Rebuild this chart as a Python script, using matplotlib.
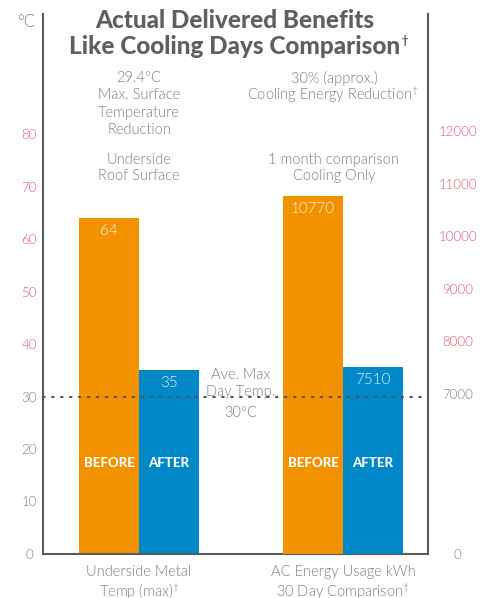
import numpy as np
import matplotlib
matplotlib.use("Agg")
import matplotlib.pyplot as plt
from matplotlib import font_manager

# data
groups = ['Underside Metal\nTemp (max)$^{\u2020}$', 'AC Energy Usage kWh\n30 Day Comparison$^{\u2020}$']
series = ['BEFORE', 'AFTER']
temp_vals = [64, 35]          # deg C, left axis
energy_vals = [10770, 7510]   # kWh, right axis
left_ticks = [0, 10, 20, 30, 40, 50, 60, 70, 80]
right_ticks = [7000, 8000, 9000, 10000, 11000, 12000]
avg_day_temp = 30

orange = '#f39200'
blue = '#0088c9'
lgrey = '#7d7d7d'
red = '#e8566e'
spine_c = '#5a5a5a'

names = {f.name for f in font_manager.fontManager.ttflist}
light = 'Lato' if 'Lato' in names else 'DejaVu Sans'
plt.rcParams['font.family'] = [light, 'DejaVu Sans']
plt.rcParams['font.weight'] = 300
plt.rcParams['mathtext.fontset'] = 'custom'
plt.rcParams['mathtext.rm'] = light
plt.rcParams['mathtext.it'] = light

W, H = 488, 598
fig = plt.figure(figsize=(W / 100, H / 100), dpi=100)
ax = fig.add_axes([43 / W, 1 - 554 / H, (428 - 43) / W, (554 - 14) / H])
ax2 = ax.twinx()

ytop = (554 - 14) / 5.25
ax.set_ylim(0, ytop)
r0 = 3950  # right axis is broken: 0 sits at the bottom, 7000 just above 30 degC
ax2.set_ylim(r0, r0 + ytop * 100)
ax.set_xlim(-0.4706, 1.4167)

bw = 0.294
xs = np.array([0, 1])
ax.bar(xs[0] - bw / 2, temp_vals[0], bw, color=orange, zorder=2)
ax.bar(xs[0] + bw / 2, temp_vals[1], bw, color=blue, zorder=2)
ax2.bar(xs[1] - bw / 2, energy_vals[0] - r0, bw, bottom=r0, color=orange, zorder=2)
ax2.bar(xs[1] + bw / 2, energy_vals[1] - r0, bw, bottom=r0, color=blue, zorder=2)

# dotted average line (on ax2 so it sits over every bar)
ax2.axhline(r0 + avg_day_temp * 100, color='#555555', lw=1.5, ls=(0, (0.8, 3.5)),
            dash_capstyle='round', zorder=3)

for a in (ax, ax2):
    for s in a.spines.values():
        s.set_visible(False)
ax.spines['left'].set_visible(True)
ax.spines['bottom'].set_visible(True)
ax2.spines['right'].set_visible(True)
for s in (ax.spines['left'], ax.spines['bottom'], ax2.spines['right']):
    s.set_color(spine_c)
    s.set_linewidth(1.5)

ax.set_yticks(left_ticks)
ax.set_yticklabels([str(t) for t in left_ticks])
ax.tick_params(axis='y', length=0, pad=10, labelsize=9.5)
for t, lab in zip(left_ticks, ax.get_yticklabels()):
    lab.set_color(red if t >= 40 else lgrey)
    lab.set_ha('center')

rt = [r0] + right_ticks
ax2.set_yticks(rt)
ax2.set_yticklabels(['0'] + [str(t) for t in right_ticks])
ax2.tick_params(axis='y', length=0, pad=21.5, labelsize=9.5)
for t, lab in zip(rt, ax2.get_yticklabels()):
    lab.set_color(red if t >= 8000 else lgrey)
    lab.set_ha('center')

ax.set_xticks(xs)
ax.set_xticklabels(groups, fontsize=10.5, color=lgrey, linespacing=1.15)
ax.tick_params(axis='x', length=0, pad=8)

# labels inside bars
for x, v in [(xs[0] - bw / 2, temp_vals[0]), (xs[0] + bw / 2, temp_vals[1])]:
    ax.annotate(str(v), (x, v), xytext=(0, -13), textcoords='offset pixels',
                ha='center', va='center', color='white', fontsize=11, alpha=0.9)
for x, v in [(xs[1] - bw / 2, energy_vals[0]), (xs[1] + bw / 2, energy_vals[1])]:
    ax2.annotate(str(v), (x, v), xytext=(0, -13), textcoords='offset pixels',
                 ha='center', va='center', color='white', fontsize=11, alpha=0.9)
for g in xs:
    for k, s in enumerate(series):
        ax2.text(g + (k - 0.5) * bw, r0 + (554 - 463) / 5.25 * 100, s, ha='center',
                 va='center', color='white', fontsize=9.5, fontweight='black')

def ft(x, y, s, **kw):
    kw.setdefault('color', lgrey)
    kw.setdefault('fontsize', 10.5)
    fig.text(x / W, 1 - y / H, s, ha='center', va='center', **kw)

ft(235, 20, 'Actual Delivered Benefits', color='#5f5f5f', fontsize=17.5, fontweight='black')
ft(235, 47, 'Like Cooling Days Comparison', color='#5f5f5f', fontsize=17.5,
   fontweight='black')
ft(405, 40, '\u2020', color='#5f5f5f', fontsize=8, fontweight='black')
ft(26, 22, '\u00b0C', fontsize=12)

for i, s in enumerate(['29.4\u00b0C', 'Max. Surface', 'Temperature', 'Reduction']):
    ft(139, 78 + i * 17.3, s)
ft(139, 160, 'Underside')
ft(139, 176, 'Roof Surface')
ft(334, 78, '30% (approx.)')
ft(333, 95, 'Cooling Energy Reduction$^{\u2020}$')
ft(334, 160, '1 month comparison')
ft(334, 176, 'Cooling Only')
ft(241, 375, 'Ave. Max')
ft(241, 392, 'Day Temp.')
ft(241, 413, '30\u00b0C')

fig.savefig('out.png', dpi=100)
